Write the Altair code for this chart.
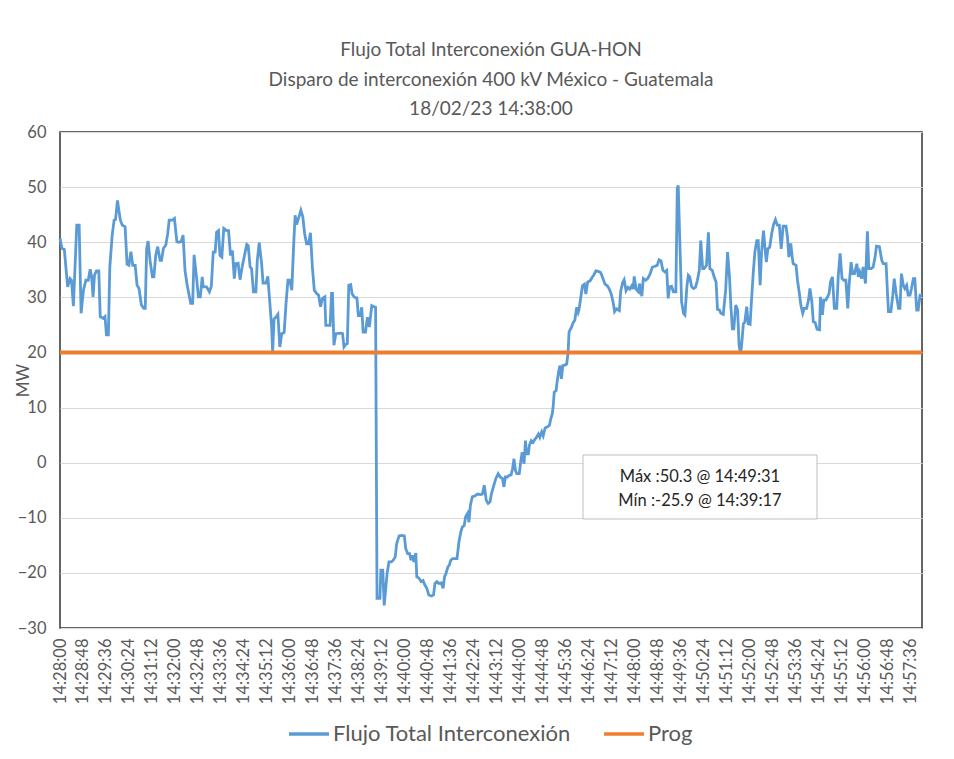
import datetime as dt
import altair as alt
import pandas as pd

# ---------------- data ----------------
START = "14:28:00"
SERIES_FLOW = "Flujo Total Interconexión"
SERIES_PROG = "Prog"

T_SEC = [
    0, 4, 9, 16, 21, 24, 28, 35, 40, 44, 49, 54, 59, 63, 66, 69, 72, 76, 81, 84,
    90, 94, 97, 101, 104, 109, 113, 116, 120, 126, 130, 136, 140, 144, 148, 152, 157, 161, 165, 170,
    175, 178, 181, 184, 188, 193, 196, 200, 204, 209, 212, 216, 221, 225, 228, 235, 239, 244, 248, 253,
    257, 261, 265, 269, 273, 277, 280, 285, 289, 293, 297, 299, 306, 312, 316, 320, 324, 327, 331, 334,
    338, 342, 348, 352, 356, 360, 364, 367, 372, 376, 381, 386, 390, 393, 397, 400, 404, 409, 412, 416,
    421, 424, 430, 434, 438, 442, 444, 447, 451, 455, 459, 463, 468, 472, 476, 480, 484, 488, 491, 494,
    499, 503, 507, 511, 515, 519, 523, 527, 531, 536, 540, 544, 548, 553, 555, 564, 567, 569, 572, 576,
    586, 590, 593, 597, 600, 603, 607, 610, 615, 620, 623, 627, 630, 633, 638, 642, 646, 651, 656, 659,
    662, 665, 668, 670, 674, 677, 683, 687, 692, 696, 700, 703, 708, 713, 719, 722, 726, 730, 733, 736,
    739, 743, 745, 750, 754, 758, 762, 766, 770, 776, 780, 783, 787, 791, 796, 800, 803, 806, 810, 813,
    816, 820, 825, 829, 833, 837, 840, 844, 847, 851, 854, 857, 861, 867, 872, 878, 882, 886, 890, 894,
    898, 901, 906, 910, 915, 919, 924, 927, 930, 934, 938, 942, 945, 948, 951, 954, 959, 962, 965, 969,
    972, 974, 978, 980, 984, 988, 992, 995, 999, 1002, 1006, 1009, 1013, 1018, 1022, 1025, 1028, 1030, 1032, 1036,
    1038, 1041, 1044, 1047, 1050, 1054, 1058, 1061, 1063, 1068, 1072, 1075, 1079, 1082, 1084, 1087, 1091, 1095, 1098, 1102,
    1107, 1111, 1115, 1119, 1124, 1129, 1133, 1138, 1143, 1147, 1151, 1155, 1158, 1162, 1168, 1171, 1175, 1178, 1182, 1186,
    1190, 1194, 1197, 1199, 1203, 1208, 1210, 1215, 1218, 1223, 1227, 1232, 1237, 1241, 1247, 1251, 1255, 1259, 1263, 1267,
    1270, 1273, 1277, 1281, 1286, 1289, 1291, 1294, 1298, 1302, 1305, 1309, 1312, 1315, 1319, 1323, 1327, 1331, 1335, 1338,
    1342, 1345, 1350, 1354, 1357, 1362, 1366, 1370, 1373, 1377, 1380, 1385, 1390, 1394, 1398, 1401, 1404, 1407, 1411, 1415,
    1418, 1421, 1423, 1427, 1430, 1434, 1437, 1441, 1444, 1448, 1451, 1455, 1458, 1462, 1465, 1469, 1472, 1475, 1478, 1482,
    1486, 1490, 1494, 1498, 1502, 1506, 1510, 1516, 1519, 1522, 1526, 1529, 1531, 1537, 1540, 1544, 1547, 1551, 1554, 1559,
    1563, 1566, 1570, 1573, 1577, 1581, 1586, 1588, 1592, 1595, 1599, 1603, 1606, 1609, 1613, 1617, 1622, 1625, 1629, 1633,
    1637, 1641, 1645, 1648, 1652, 1655, 1659, 1664, 1667, 1670, 1674, 1677, 1682, 1686, 1689, 1694, 1698, 1702, 1705, 1711,
    1716, 1719, 1725, 1728, 1730, 1735, 1739, 1742, 1746, 1751, 1754, 1757, 1761, 1764, 1768, 1771, 1775, 1778, 1782, 1785,
    1789, 1792, 1796, 1800,
]

FLOW_MW = [
    40.7, 38.9, 38.7, 31.9, 33.4, 33.1, 28.4, 43.1, 43.1, 27.1, 31.3, 33.1, 33.1, 35.1, 33.8, 30.1, 34.0, 34.8, 34.8, 26.5,
    26.2, 26.5, 23.2, 23.2, 35.5, 41.3, 44.0, 44.1, 47.6, 44.0, 43.1, 42.8, 36.0, 35.8, 38.3, 35.8, 35.8, 32.2, 31.6, 28.6,
    28.0, 28.0, 38.9, 40.2, 36.7, 33.7, 33.7, 37.7, 39.2, 36.7, 36.7, 38.9, 39.5, 41.6, 44.0, 44.0, 44.3, 40.1, 40.0, 40.1,
    41.3, 34.9, 32.5, 30.7, 28.9, 28.9, 37.7, 33.7, 30.1, 30.1, 33.7, 31.9, 31.9, 31.0, 32.0, 38.2, 38.2, 41.8, 42.1, 37.6,
    37.3, 42.5, 42.1, 42.1, 37.6, 38.5, 33.4, 36.1, 36.2, 33.2, 35.8, 37.9, 39.6, 39.4, 35.5, 35.2, 31.0, 31.0, 36.7, 39.9,
    36.1, 32.6, 32.6, 33.8, 29.2, 24.6, 20.1, 26.1, 26.4, 26.9, 21.0, 23.4, 23.6, 28.9, 33.1, 33.1, 31.3, 39.7, 44.9, 43.2,
    44.6, 45.8, 44.6, 41.5, 39.7, 39.7, 41.7, 35.5, 31.3, 30.7, 30.4, 28.3, 29.8, 30.1, 24.9, 24.9, 30.7, 30.7, 21.3, 23.4,
    23.5, 23.4, 21.0, 21.5, 21.6, 32.2, 32.3, 30.6, 30.0, 29.9, 26.7, 26.7, 28.2, 23.7, 23.7, 26.4, 24.6, 28.5, 28.3, 28.2,
    -24.6, -24.6, -24.6, -19.5, -19.5, -25.9, -20.1, -18.0, -18.0, -17.7, -17.1, -14.7, -13.3, -13.2, -13.3, -15.6, -16.5, -16.5, -17.7, -16.8,
    -18.0, -16.4, -20.7, -21.0, -21.6, -21.4, -22.2, -22.8, -24.0, -24.2, -24.0, -21.9, -21.6, -21.9, -21.8, -22.8, -20.7, -20.1, -18.9, -18.6,
    -17.7, -17.4, -17.4, -17.4, -14.4, -12.6, -11.7, -11.4, -9.8, -9.2, -10.8, -7.7, -6.2, -6.0, -5.7, -5.8, -5.7, -4.1, -6.8, -7.4,
    -7.1, -5.6, -4.1, -2.9, -2.0, -2.6, -2.9, -4.4, -2.6, -2.6, -2.3, -2.2, -1.1, 0.7, -1.4, -2.0, -2.0, 0.1, 1.9, -0.2,
    4.0, 1.6, 1.6, 3.1, 4.0, 3.7, 4.3, 4.6, 5.2, 4.6, 5.6, 4.9, 6.3, 6.5, 6.8, 8.0, 8.9, 10.4, 12.8, 13.1,
    14.6, 16.4, 17.6, 15.2, 17.6, 17.7, 17.9, 20.0, 23.7, 24.6, 25.5, 25.8, 28.2, 27.3, 27.9, 29.7, 32.1, 32.4, 30.6, 32.8,
    33.0, 33.6, 34.1, 34.8, 34.7, 34.5, 33.6, 32.4, 32.1, 31.5, 30.6, 29.1, 27.4, 27.9, 27.6, 31.2, 32.7, 33.2, 31.2, 31.8,
    31.5, 32.1, 31.5, 33.8, 31.5, 31.0, 32.5, 30.2, 33.4, 33.1, 33.4, 34.2, 35.5, 35.6, 35.8, 36.8, 36.6, 34.9, 34.6, 34.9,
    29.8, 31.9, 32.0, 31.0, 31.0, 49.8, 50.3, 40.9, 29.2, 27.1, 26.8, 31.9, 34.0, 33.7, 31.9, 31.6, 31.8, 33.1, 34.9, 40.3,
    35.2, 35.2, 35.8, 41.8, 35.2, 34.9, 33.7, 32.8, 27.8, 27.7, 27.1, 26.9, 31.3, 38.2, 33.7, 28.3, 24.3, 24.3, 28.6, 27.7,
    21.3, 19.8, 21.0, 25.2, 25.5, 28.3, 25.2, 25.1, 29.5, 34.9, 38.2, 40.3, 40.3, 32.2, 38.2, 42.1, 39.1, 36.4, 38.8, 39.1,
    41.5, 43.2, 44.1, 43.1, 43.1, 38.8, 42.9, 42.9, 41.0, 37.3, 39.8, 37.3, 36.1, 35.8, 33.1, 30.7, 28.6, 27.1, 28.0, 28.0,
    29.5, 31.6, 29.2, 25.6, 25.4, 24.2, 24.1, 30.1, 26.8, 29.5, 29.5, 30.1, 30.7, 32.8, 33.7, 28.0, 28.0, 33.7, 38.0, 33.4,
    33.1, 33.1, 28.0, 32.5, 36.4, 34.3, 34.3, 36.1, 33.7, 34.6, 33.4, 35.5, 32.5, 42.0, 35.2, 35.2, 35.5, 37.3, 39.3, 39.2,
    36.7, 36.1, 36.1, 30.7, 27.4, 27.4, 30.4, 33.4, 30.7, 28.0, 28.0, 34.3, 32.2, 31.6, 32.2, 30.4, 30.4, 31.6, 33.4, 33.4,
    27.7, 27.7, 30.4, 30.4,
]

PROG_T = [0, 1800]
PROG_MW = [20, 20]

TICK_SEC = list(range(0, 1777, 48))   # a label every 48 s: 14:28:00 ... 14:57:36

TITLE_LINES = [
    "Flujo Total Interconexión GUA-HON",
    "Disparo de interconexión 400 kV México - Guatemala",
    "18/02/23 14:38:00",
]

# ---------------- derived ----------------
t0 = dt.datetime.strptime(START, "%H:%M:%S")
def clock(sec):
    return (t0 + dt.timedelta(seconds=sec)).strftime("%H:%M:%S")

imax = max(range(len(FLOW_MW)), key=lambda i: FLOW_MW[i])
imin = min(range(len(FLOW_MW)), key=lambda i: FLOW_MW[i])
note = (f"Máx :{FLOW_MW[imax]:.1f} @ {clock(T_SEC[imax])}\n"
        f"Mín :{FLOW_MW[imin]:.1f} @ {clock(T_SEC[imin])}")

df_flow = pd.DataFrame({"t": T_SEC, "mw": FLOW_MW, "serie": SERIES_FLOW})
df_prog = pd.DataFrame({"t": PROG_T, "mw": PROG_MW, "serie": SERIES_PROG})

FONT = "Lato"
GREY = "#595959"
BLUE = "#5B9BD5"
ORANGE = "#ED7D31"
W, H = 862, 496

x_enc = alt.X(
    "t:Q",
    scale=alt.Scale(domain=[0, 1800], nice=False, zero=False),
    axis=alt.Axis(
        values=TICK_SEC,
        labelExpr="timeFormat(datetime(2023, 1, 18, 14, 28, datum.value), '%H:%M:%S')",
        labelAngle=270, labelFontSize=16.5, labelFont=FONT, labelColor=GREY,
        labelPadding=10, ticks=False, domain=False, grid=False, title=None,
        labelOverlap=False, labelFlush=False, labelBound=False, labelSeparation=0,
    ),
)
y_enc = alt.Y(
    "mw:Q",
    scale=alt.Scale(domain=[-30, 60], nice=False, zero=False),
    axis=alt.Axis(
        values=list(range(-30, 61, 10)), grid=True, gridColor="#D9D9D9", gridWidth=1,
        domain=False, ticks=False, labelFontSize=16.5, labelFont=FONT, labelColor=GREY,
        labelPadding=14, title="MW", titleFont=FONT, titleFontSize=17,
        titleFontWeight="normal", titleColor=GREY, titleX=-37, titleY=H / 2,
        titleAlign="center", titleBaseline="middle", titleAngle=270,
    ),
)
color_scale = alt.Scale(domain=[SERIES_FLOW, SERIES_PROG], range=[BLUE, ORANGE])
color_enc = alt.Color(
    "serie:N", scale=color_scale,
    legend=alt.Legend(
        title=None, orient="none", legendX=227, legendY=580, direction="horizontal",
        symbolType="stroke", symbolSize=1600, symbolStrokeWidth=3.5,
        labelFontSize=22, labelFont=FONT, labelColor=GREY, labelOffset=2,
        columnPadding=26, labelLimit=500,
    ),
)

flow = alt.Chart(df_flow).mark_line(strokeWidth=2.8).encode(x=x_enc, y=y_enc, color=color_enc)
prog = alt.Chart(df_prog).mark_line(strokeWidth=4).encode(x=x_enc, y=y_enc, color=color_enc)

box_src = pd.DataFrame({"note": [note]})
box = alt.Chart(box_src).mark_rect(fill="white", stroke="#BFBFBF", strokeWidth=1).encode(
    x=alt.value(523), x2=alt.value(757), y=alt.value(323), y2=alt.value(387)
)
box_text = alt.Chart(box_src).mark_text(
    font=FONT, fontSize=16.5, color="#262626", align="center", baseline="middle",
    lineBreak="\n", lineHeight=23.5,
).encode(x=alt.value(640), y=alt.value(345), text="note:N")

chart = (
    alt.layer(flow, prog, box, box_text)
    .properties(
        width=W, height=H,
        autosize=alt.AutoSizeParams(type="none"),
        padding={"left": 52, "top": 124, "right": 24, "bottom": 123},
        background="white",
        title=alt.TitleParams(
            text=TITLE_LINES, fontSize=19, font=FONT, color=GREY, fontWeight="normal",
            anchor="middle", lineHeight=29.5, offset=5,
        ),
    )
    .configure_view(stroke="#333333", strokeWidth=1.5)
    .configure_axisX(labelOverlap=False)
)

chart.save("out.html", embed_options={"renderer": "svg", "actions": False})
